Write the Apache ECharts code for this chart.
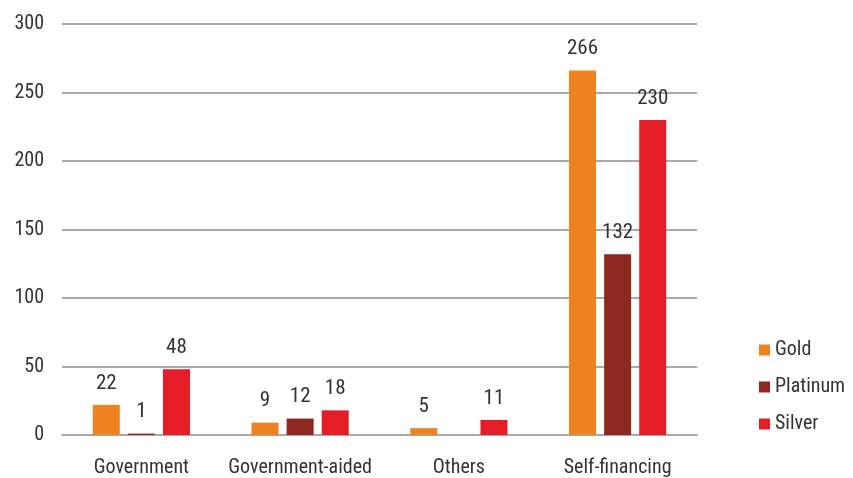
<!DOCTYPE html>
<html><head><meta charset="utf-8">
<script src="https://cdn.jsdelivr.net/npm/echarts@6/dist/echarts.min.js"></script>
<style>html,body{margin:0;padding:0;background:#fff}#c{width:853px;height:478px}</style>
</head><body><div id="c"></div>
<script>
var categories = ['Government', 'Government-aided', 'Others', 'Self-financing'];
var gold = [22, 9, 5, 266];
var platinum = [1, 12, null, 132];
var silver = [48, 18, 11, 230];
var yTicks = [0, 50, 100, 150, 200, 250, 300];

var FONT = '"Liberation Sans Narrow", "Roboto Condensed", Roboto, sans-serif';
var chart = echarts.init(document.getElementById('c'));
var lbl = {show: true, position: 'top', distance: 11, color: '#333', fontSize: 21, fontFamily: FONT};
function ser(name, data, color) {
  return {name: name, type: 'bar', data: data, barWidth: 27, barGap: '30%',
    itemStyle: {color: color}, label: lbl};
}
chart.setOption({
  animation: false,
  textStyle: {fontFamily: FONT},
  grid: {left: 62, right: 156, top: 24, bottom: 43},
  legend: {orient: 'vertical', left: 754, top: 335, itemWidth: 11, itemHeight: 11, itemGap: 17,
    icon: 'rect', textStyle: {fontSize: 20, color: '#333', fontFamily: FONT},
    data: ['Gold', 'Platinum', 'Silver']},
  xAxis: {type: 'category', data: categories,
    axisLine: {lineStyle: {color: '#aaa', width: 2}}, axisTick: {show: false},
    axisLabel: {interval: 0, fontSize: 20, color: '#333', margin: 23, fontFamily: FONT}},
  yAxis: {type: 'value', min: yTicks[0], max: yTicks[yTicks.length - 1], interval: 50,
    axisLine: {show: false}, axisTick: {show: false},
    splitLine: {lineStyle: {color: '#aaa', width: 2}},
    axisLabel: {fontSize: 20, color: '#333', margin: 18, fontFamily: FONT}},
  series: [ser('Gold', gold, '#ee8220'), ser('Platinum', platinum, '#8e2720'), ser('Silver', silver, '#e31e26')]
});
</script></body></html>
